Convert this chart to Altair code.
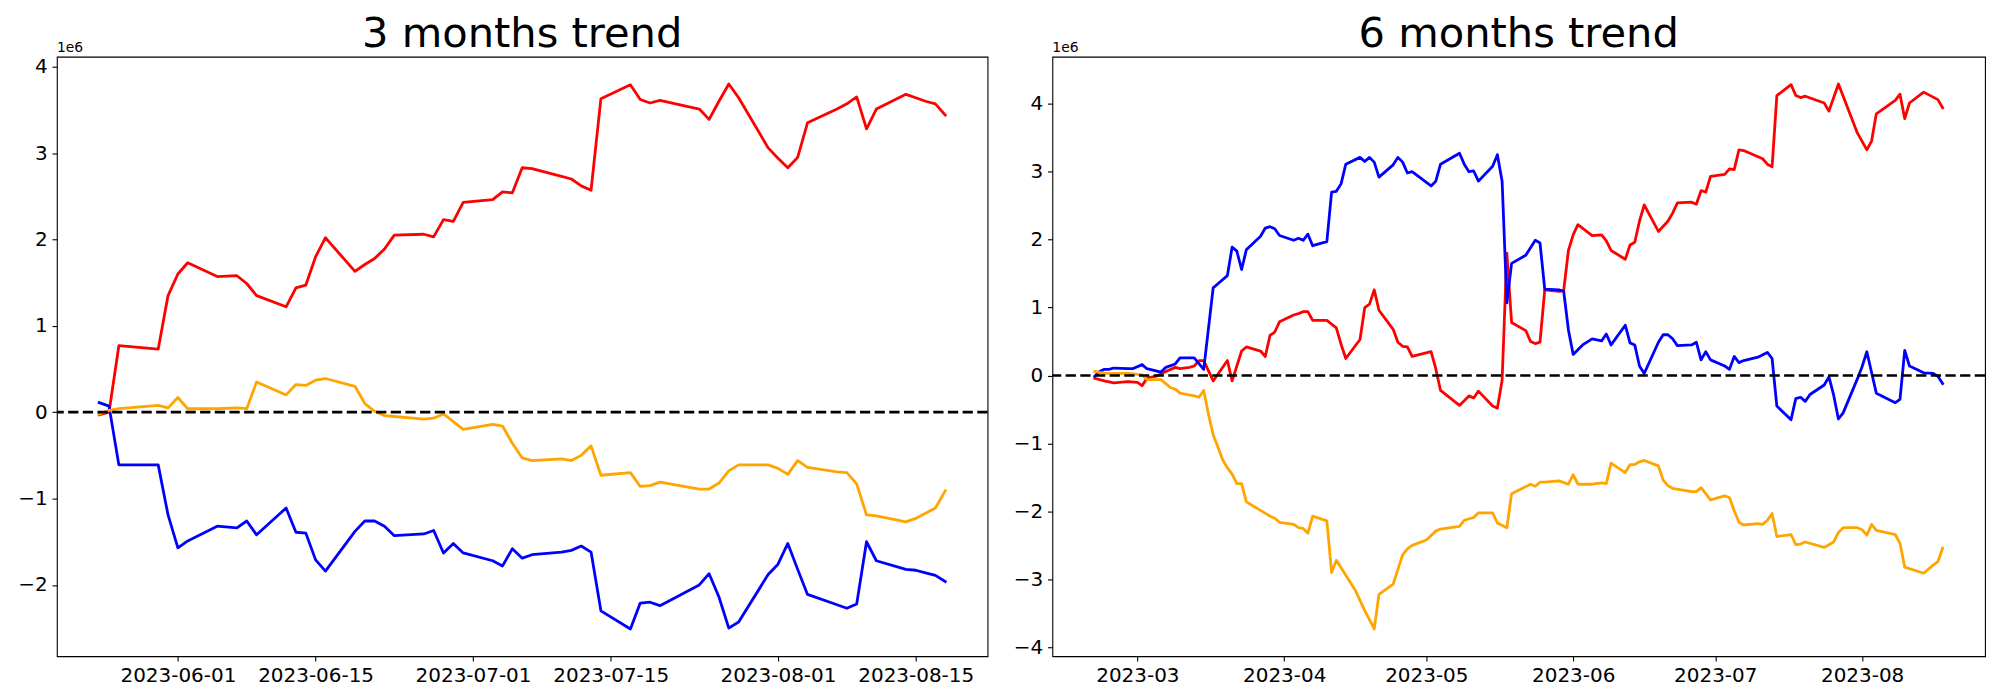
import altair as alt
import pandas as pd

FONT = "DejaVu Sans"
UNIT = 1e6  # values below are in millions (axis shows the 1e6 offset)

# ---------------- 3 months panel ----------------
dates_3m = ["2023-05-24", "2023-05-25", "2023-05-26", "2023-05-30", "2023-05-31",
            "2023-06-01", "2023-06-02", "2023-06-05", "2023-06-07", "2023-06-08", "2023-06-09",
            "2023-06-12", "2023-06-13", "2023-06-14", "2023-06-15", "2023-06-16",
            "2023-06-19", "2023-06-20", "2023-06-21", "2023-06-22", "2023-06-23",
            "2023-06-26", "2023-06-27", "2023-06-28", "2023-06-29", "2023-06-30",
            "2023-07-03", "2023-07-04", "2023-07-05", "2023-07-06", "2023-07-07",
            "2023-07-10", "2023-07-11", "2023-07-12", "2023-07-13", "2023-07-14",
            "2023-07-17", "2023-07-18", "2023-07-19", "2023-07-20",
            "2023-07-24", "2023-07-25", "2023-07-26", "2023-07-27", "2023-07-28",
            "2023-07-31", "2023-08-01", "2023-08-02", "2023-08-03", "2023-08-04",
            "2023-08-07", "2023-08-08", "2023-08-09", "2023-08-10", "2023-08-11",
            "2023-08-14", "2023-08-15", "2023-08-16", "2023-08-17", "2023-08-18"]
red_3m = [-0.03, 0.00, 0.77, 0.73, 1.35,
          1.60, 1.73, 1.57, 1.58, 1.49, 1.35,
          1.22, 1.44, 1.47, 1.80, 2.02,
          1.63, 1.71, 1.78, 1.89, 2.05,
          2.06, 2.03, 2.23, 2.21, 2.43,
          2.46, 2.55, 2.54, 2.83, 2.82,
          2.73, 2.70, 2.62, 2.57, 3.63,
          3.79, 3.62, 3.58, 3.61,
          3.51, 3.39, 3.60, 3.80, 3.64,
          3.06, 2.94, 2.83, 2.95, 3.35,
          3.51, 3.57, 3.65, 3.28, 3.51,
          3.68, 3.64, 3.60, 3.57, 3.44]
blue_3m = [0.11, 0.07, -0.61, -0.61, -1.19,
           -1.57, -1.49, -1.32, -1.34, -1.26, -1.42,
           -1.11, -1.39, -1.40, -1.71, -1.84,
           -1.38, -1.26, -1.26, -1.32, -1.43,
           -1.41, -1.37, -1.63, -1.52, -1.63,
           -1.72, -1.78, -1.58, -1.69, -1.65,
           -1.62, -1.60, -1.55, -1.62, -2.30,
           -2.51, -2.21, -2.20, -2.24,
           -2.00, -1.87, -2.14, -2.50, -2.43,
           -1.88, -1.76, -1.52, -1.82, -2.11,
           -2.23, -2.27, -2.22, -1.50, -1.72,
           -1.82, -1.83, -1.86, -1.89, -1.96]
orange_3m = [-0.02, 0.02, 0.04, 0.08, 0.05,
             0.17, 0.04, 0.04, 0.05, 0.04, 0.35,
             0.20, 0.32, 0.31, 0.37, 0.39,
             0.30, 0.10, 0.01, -0.04, -0.05,
             -0.08, -0.07, -0.02, -0.11, -0.20,
             -0.14, -0.16, -0.36, -0.53, -0.56,
             -0.54, -0.56, -0.50, -0.39, -0.73,
             -0.70, -0.86, -0.85, -0.81,
             -0.89, -0.89, -0.82, -0.68, -0.61,
             -0.61, -0.65, -0.72, -0.56, -0.64,
             -0.69, -0.70, -0.83, -1.19, -1.20,
             -1.27, -1.23, -1.17, -1.11, -0.91]

# ---------------- 6 months panel (days counted from 2023-03-01) ----------------
start_6m = "2023-03-01"
red_6m_day = [-9, -7, -5, -2, 0, 1, 2, 4, 6, 8, 9, 11, 12, 13, 14, 16, 19, 20, 22, 23,
              26, 27, 28, 29, 30, 33, 34, 35, 36, 37, 40, 42, 43, 44, 47, 48, 49, 50, 51, 54,
              55, 56, 57, 58, 62, 63, 64, 68, 70, 71, 72, 75, 76, 77, 78, 79, 82, 83, 84, 85,
              86, 89, 90, 91, 92, 93, 96, 98, 99, 100, 103, 104, 105, 106, 107, 110, 112, 113, 114, 117,
              118, 119, 120, 121, 124, 125, 126, 127, 128, 132, 133, 134, 135, 138, 139, 140, 141, 145, 146, 148,
              152, 154, 155, 156, 160, 161, 162, 163, 166, 169, 170]
red_6m = [-0.04, -0.08, -0.11, -0.09, -0.10, -0.15, -0.04, -0.01, 0.06, 0.12,
          0.10, 0.12, 0.14, 0.22, 0.22, -0.08, 0.22, -0.08, 0.36, 0.42,
          0.36, 0.28, 0.59, 0.64, 0.79, 0.89, 0.91, 0.94, 0.94, 0.81,
          0.81, 0.70, 0.46, 0.25, 0.53, 1.00, 1.05, 1.26, 0.96, 0.68,
          0.49, 0.43, 0.42, 0.28, 0.35, 0.10, -0.22, -0.44, -0.30, -0.33,
          -0.23, -0.45, -0.48, -0.07, 1.80, 0.78, 0.66, 0.50, 0.47, 0.49,
          1.26, 1.24, 1.25, 1.84, 2.07, 2.22, 2.06, 2.07, 1.98, 1.84,
          1.71, 1.92, 1.96, 2.27, 2.51, 2.12, 2.27, 2.39, 2.54, 2.55,
          2.52, 2.72, 2.70, 2.93, 2.96, 3.04, 3.03, 3.32, 3.31, 3.19,
          3.11, 3.07, 4.12, 4.28, 4.12, 4.09, 4.11, 4.01, 3.89, 4.29,
          3.57, 3.32, 3.45, 3.85, 4.05, 4.14, 3.78, 4.01, 4.17, 4.06,
          3.94]
blue_6m_day = [-9, -8, -7, -6, -5, -2, -1, 1, 2, 5, 6, 8, 9, 12, 14, 16, 17, 19, 20, 21,
               22, 23, 26, 27, 28, 29, 30, 33, 34, 35, 36, 37, 40, 41, 42, 43, 44, 47, 48, 49,
               50, 51, 54, 55, 56, 57, 58, 62, 63, 64, 68, 69, 70, 71, 72, 75, 76, 77, 78, 79,
               82, 84, 85, 86, 89, 90, 91, 92, 93, 94, 96, 98, 99, 100, 103, 104, 105, 106, 107, 110,
               111, 112, 113, 114, 117, 118, 119, 120, 121, 124, 125, 126, 127, 128, 131, 133, 134, 135, 138, 139,
               140, 141, 142, 145, 146, 147, 148, 149, 152, 153, 154, 156, 160, 161, 162, 163, 166, 168, 169, 170]
blue_6m = [-0.01, 0.06, 0.09, 0.09, 0.11, 0.10, 0.10, 0.16, 0.10, 0.05,
           0.12, 0.17, 0.26, 0.26, 0.09, 1.29, 1.35, 1.47, 1.89, 1.83,
           1.56, 1.85, 2.05, 2.17, 2.19, 2.16, 2.06, 1.99, 2.02, 1.99,
           2.08, 1.91, 1.97, 2.70, 2.71, 2.82, 3.11, 3.21, 3.15, 3.21,
           3.14, 2.92, 3.10, 3.21, 3.14, 2.98, 3.00, 2.79, 2.86, 3.11,
           3.27, 3.11, 3.00, 3.01, 2.86, 3.08, 3.25, 2.86, 1.07, 1.65,
           1.77, 1.99, 1.95, 1.27, 1.26, 1.24, 0.67, 0.31, 0.38, 0.45,
           0.54, 0.51, 0.61, 0.45, 0.74, 0.48, 0.45, 0.14, 0.03, 0.49,
           0.60, 0.60, 0.54, 0.44, 0.45, 0.49, 0.23, 0.35, 0.23, 0.14,
           0.09, 0.28, 0.19, 0.22, 0.27, 0.34, 0.25, -0.45, -0.65, -0.34,
           -0.32, -0.38, -0.28, -0.14, -0.02, -0.29, -0.64, -0.55, -0.05, 0.13,
           0.35, -0.26, -0.40, -0.35, 0.37, 0.14, 0.04, 0.03, -0.01, -0.12]
orange_6m_day = [-9, -7, -2, 1, 2, 5, 7, 8, 9, 12, 13, 14, 15, 16, 18, 19, 20, 21, 22, 23,
                 28, 29, 30, 33, 34, 35, 36, 37, 40, 41, 42, 46, 48, 50, 51, 54, 56, 57, 58, 61,
                 63, 64, 68, 69, 71, 72, 75, 76, 78, 79, 83, 84, 85, 86, 89, 91, 92, 93, 96, 98,
                 99, 100, 103, 104, 105, 106, 107, 110, 111, 112, 113, 117, 118, 119, 121, 124, 125, 126, 127, 128,
                 131, 132, 133, 134, 135, 138, 139, 140, 141, 145, 147, 148, 149, 152, 153, 154, 155, 156, 160, 161,
                 162, 166, 168, 169, 170]
orange_6m = [0.06, 0.03, 0.03, 0.01, -0.06, -0.06, -0.18, -0.20, -0.26, -0.30,
             -0.32, -0.22, -0.57, -0.87, -1.24, -1.36, -1.45, -1.59, -1.59, -1.86,
             -2.07, -2.10, -2.16, -2.19, -2.24, -2.25, -2.32, -2.07, -2.14, -2.90,
             -2.72, -3.16, -3.46, -3.73, -3.22, -3.07, -2.64, -2.55, -2.50, -2.42,
             -2.29, -2.26, -2.22, -2.13, -2.09, -2.02, -2.02, -2.17, -2.24, -1.74,
             -1.60, -1.63, -1.57, -1.57, -1.55, -1.60, -1.46, -1.60, -1.60, -1.58,
             -1.59, -1.29, -1.43, -1.31, -1.31, -1.27, -1.25, -1.33, -1.54, -1.62,
             -1.66, -1.71, -1.71, -1.65, -1.83, -1.77, -1.80, -1.99, -2.16, -2.20,
             -2.18, -2.19, -2.13, -2.03, -2.37, -2.34, -2.49, -2.48, -2.45, -2.53,
             -2.45, -2.31, -2.24, -2.24, -2.27, -2.35, -2.19, -2.28, -2.34, -2.47,
             -2.82, -2.91, -2.79, -2.74, -2.54]

ticks_3m = ["2023-06-01", "2023-06-15", "2023-07-01", "2023-07-15", "2023-08-01", "2023-08-15"]
ticks_6m = ["2023-03-01", "2023-04-01", "2023-05-01", "2023-06-01", "2023-07-01", "2023-08-01"]
yticks_3m = [-2, -1, 0, 1, 2, 3, 4]
yticks_6m = [-4, -3, -2, -1, 0, 1, 2, 3, 4]

COLORS = {"red": "#ff0000", "blue": "#0000ff", "orange": "#ffa500"}


def ms(d):
    return int(pd.Timestamp(d, tz="UTC").value // 10**6)


def offset_dates(days):
    base = pd.Timestamp(start_6m)
    return [(base + pd.Timedelta(days=int(k))).strftime("%Y-%m-%d") for k in days]


def frame(dates, vals):
    return pd.DataFrame({"date": list(dates), "value": [v * UNIT for v in vals]})


def panel(title, series, ticks, yticks, fmt, width, height):
    all_dates = pd.to_datetime([d for _, df in series for d in df["date"]], utc=True)
    lo, hi = all_dates.min(), all_dates.max()
    m = (hi - lo) * 0.05
    xdom = [int((lo - m).value // 10**6), int((hi + m).value // 10**6)]
    vals = [v for _, df in series for v in df["value"]]
    vmin, vmax = min(vals), max(vals)
    r = vmax - vmin
    ydom = [vmin - 0.05 * r, vmax + 0.05 * r]

    x = alt.X("date:T",
              scale=alt.Scale(type="utc", domain=xdom, nice=False),
              axis=alt.Axis(values=[ms(t) for t in ticks],
                            labelExpr="utcFormat(datum.value, '%s')" % fmt,
                            title=None, labelOverlap=False, labelFlush=False))
    y = alt.Y("value:Q",
              scale=alt.Scale(domain=ydom, nice=False, zero=False),
              axis=alt.Axis(values=[v * UNIT for v in yticks],
                            labelExpr="replace(format(datum.value / 1000000, 'd'), '-', '\u2212')",
                            title=None, minExtent=43, maxExtent=43))

    layers = []
    for color, df in series:
        layers.append(
            alt.Chart(df).mark_line(color=COLORS[color], strokeWidth=2.8,
                                    strokeJoin="round", strokeCap="square").encode(x=x, y=y)
        )
    zero = alt.Chart(pd.DataFrame({"value": [0.0]})).mark_rule(
        color="black", strokeWidth=2.7, strokeDash=[10.3, 4.4]).encode(y=y)
    offset_txt = alt.Chart(pd.DataFrame({"t": ["1e6"]})).mark_text(
        align="left", baseline="alphabetic", fontSize=13.9, font=FONT, color="black").encode(
        text="t:N", x=alt.value(0), y=alt.value(-4.5))
    title_txt = alt.Chart(pd.DataFrame({"t": [title]})).mark_text(
        align="center", baseline="alphabetic", fontSize=41.7, font=FONT, color="black").encode(
        text="t:N", x=alt.value(width / 2), y=alt.value(-10))
    return alt.layer(*layers, zero, offset_txt, title_txt).properties(width=width, height=height)


left = panel("3 months trend",
             [("red", frame(dates_3m, red_3m)),
              ("blue", frame(dates_3m, blue_3m)),
              ("orange", frame(dates_3m, orange_3m))],
             ticks_3m, yticks_3m, "%Y-%m-%d", 933, 601)

right = panel("6 months trend",
              [("red", frame(offset_dates(red_6m_day), red_6m)),
               ("blue", frame(offset_dates(blue_6m_day), blue_6m)),
               ("orange", frame(offset_dates(orange_6m_day), orange_6m))],
              ticks_6m, yticks_6m, "%Y-%m", 935, 601)

chart = alt.hconcat(left, right, spacing=19).properties(
    padding={"left": 5, "top": 4, "right": 5, "bottom": 0},
    background="white",
).configure_view(
    stroke="black", strokeWidth=1.1
).configure_axis(
    domain=False, grid=False, labelFont=FONT, labelFontSize=20, labelColor="black",
    tickColor="black", tickSize=4.9, tickWidth=1.1, labelPadding=4.9
)

chart.save("out.html", embed_options={"renderer": "svg", "actions": False})
